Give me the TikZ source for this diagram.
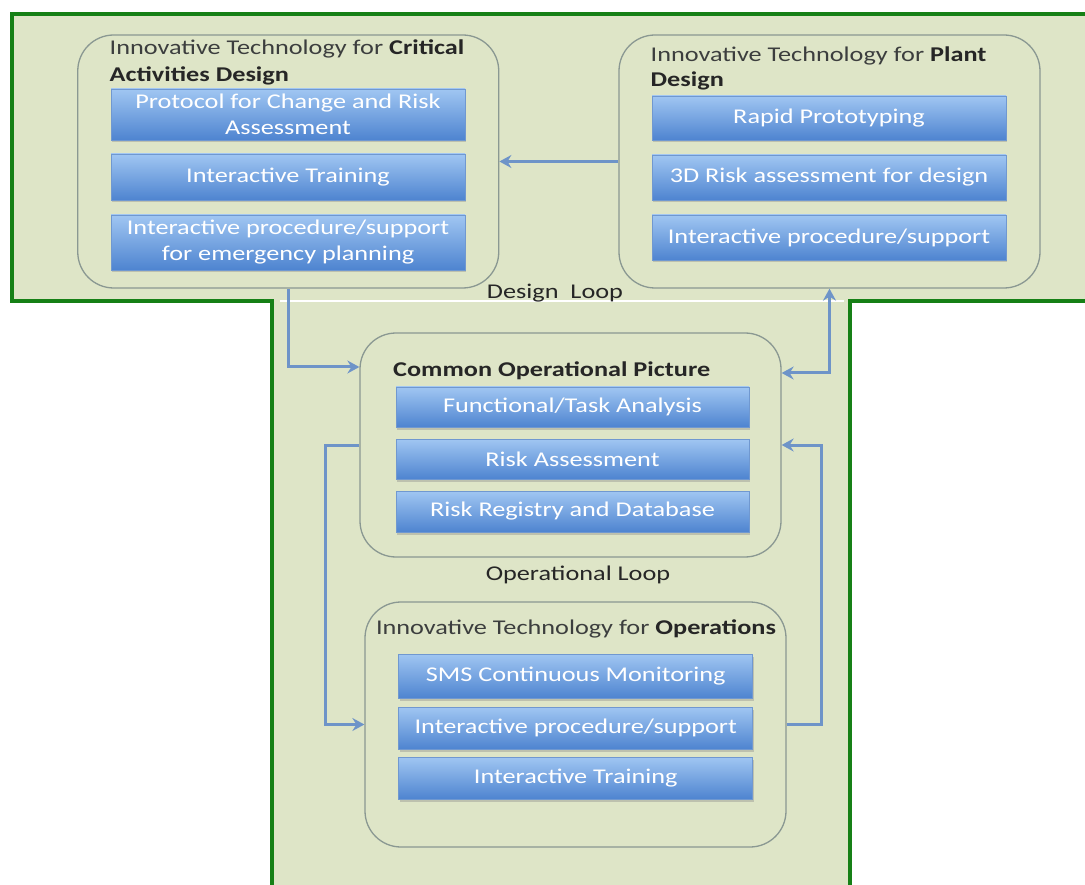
\documentclass[tikz,border=0pt]{standalone}
\usepackage{fontspec}
\setmainfont{Carlito}[FakeStretch=1.25]
\usetikzlibrary{arrows.meta,shadows}
\definecolor{bg}{RGB}{222,229,199}
\definecolor{frame}{RGB}{22,128,22}
\definecolor{boxline}{RGB}{138,152,146}
\definecolor{btop}{RGB}{160,198,242}
\definecolor{bbot}{RGB}{78,132,208}
\definecolor{bedge}{RGB}{112,152,208}
\definecolor{arrowc}{RGB}{110,148,200}
\definecolor{titlec}{RGB}{60,62,62}
\begin{document}
\begin{tikzpicture}[x=1pt,y=-1pt,
  group/.style={draw=boxline, line width=1.3pt, rounded corners=36pt, inner sep=0pt},
  bluebox/.style={draw=bedge, line width=0.8pt, top color=btop, bottom color=bbot,
    text=white, align=center, inner sep=0pt, minimum width=354pt,
    font=\fontsize{21}{26}\selectfont,
    drop shadow={opacity=0.35, shadow xshift=1pt, shadow yshift=-2.5pt}},
  gtitle/.style={text=titlec, inner sep=0pt, font=\fontsize{21}{25}\selectfont},
  looplabel/.style={text=black!85, inner sep=0pt, font=\fontsize{21}{25}\selectfont},
  conn/.style={draw=arrowc, line width=3pt, -{Stealth[length=12pt,width=13pt,inset=4pt]}},
  conn2/.style={draw=arrowc, line width=3pt, {Stealth[length=12pt,width=13pt,inset=4pt]}-{Stealth[length=12pt,width=13pt,inset=4pt]}}
]
\useasboundingbox (0,0) rectangle (1085,885);
\clip (0,0) rectangle (1085,885);
% T-shaped background
\fill[bg] (1095,14) -- (12,14) -- (12,301) -- (272,301) -- (272,895) -- (850,895) -- (850,301) -- (1095,301) -- cycle;
\draw[frame, line width=4pt] (1095,14) -- (12,14) -- (12,301) -- (272,301) -- (272,895);
\draw[frame, line width=4pt] (850,895) -- (850,301) -- (1095,301);
\draw[white, line width=2pt] (280,301) -- (844,301);

% groups
\node[group, minimum width=421pt, minimum height=253pt] (crit) at (288.25,161.5) {};
\node[group, minimum width=421pt, minimum height=253pt] (plant) at (829.5,161.5) {};
\node[group, minimum width=421pt, minimum height=224pt] (cop) at (570.5,445) {};
\node[group, minimum width=421pt, minimum height=245pt] (ops) at (575.5,724.5) {};

% titles
\node[gtitle, anchor=base west] (critT1) at (109.5,55) {Innovative Technology for \textbf{\color{black!85}Critical}};
\node[gtitle, anchor=base west] (critT2) at (109.5,82) {\textbf{\color{black!85}Activities Design}};
\node[gtitle, anchor=base west] (plantT1) at (650.5,62) {Innovative Technology for \textbf{\color{black!85}Plant}};
\node[gtitle, anchor=base west] (plantT2) at (650.5,87) {\textbf{\color{black!85}Design}};
\node[gtitle, anchor=base west] (copT) at (393,377) {\textbf{\color{black!85}Common Operational Picture}};
\node[gtitle, anchor=base] (opsT) at (576,634) {Innovative Technology for \textbf{\color{black!85}Operations}};

% blue boxes
\node[bluebox, minimum height=51pt] (c1) at (288,114.5) {Protocol for Change and Risk\\Assessment};
\node[bluebox, minimum height=46pt] (c2) at (288,177) {Interactive Training};
\node[bluebox, minimum height=55pt] (c3) at (288,242.5) {Interactive procedure/support\\for emergency planning};

\node[bluebox, minimum height=44pt] (p1) at (829,118) {Rapid Prototyping};
\node[bluebox, minimum height=45pt] (p2) at (829,177.5) {3D Risk assessment for design};
\node[bluebox, minimum height=45pt] (p3) at (829,237.5) {Interactive procedure/support};

\node[bluebox, minimum height=40pt, minimum width=353pt] (o1) at (572.5,407) {Functional/Task Analysis};
\node[bluebox, minimum height=40pt, minimum width=353pt] (o2) at (572.5,459) {Risk Assessment};
\node[bluebox, minimum height=41pt, minimum width=353pt] (o3) at (572.5,511.5) {Risk Registry and Database};

\node[bluebox, minimum height=44pt] (s1) at (575.75,676) {SMS Continuous Monitoring};
\node[bluebox, minimum height=42pt] (s2) at (575.75,728) {Interactive procedure/support};
\node[bluebox, minimum height=42pt] (s3) at (575.75,778) {Interactive Training};

% loop labels
\node[looplabel] (dl) at (555,293) {Design\ \ Loop};
\node[looplabel] (ol) at (578,575) {Operational Loop};

% helper coordinates
\coordinate (yA) at (0,367);
\coordinate (yB) at (0,373);
\coordinate (xL) at (325,0);
\coordinate (xR) at (821,0);

% connectors
\draw[conn] (plant.west) -- (crit.east);
\draw[conn] (crit.south) |- (cop.west |- yA);
\draw[conn2] (cop.east |- yB) -| (plant.south);
\draw[conn] (cop.west) -| (xL |- ops.west) -- (ops.west);
\draw[conn] (ops.east) -| (xR |- cop.east) -- (cop.east);
\end{tikzpicture}
\end{document}
